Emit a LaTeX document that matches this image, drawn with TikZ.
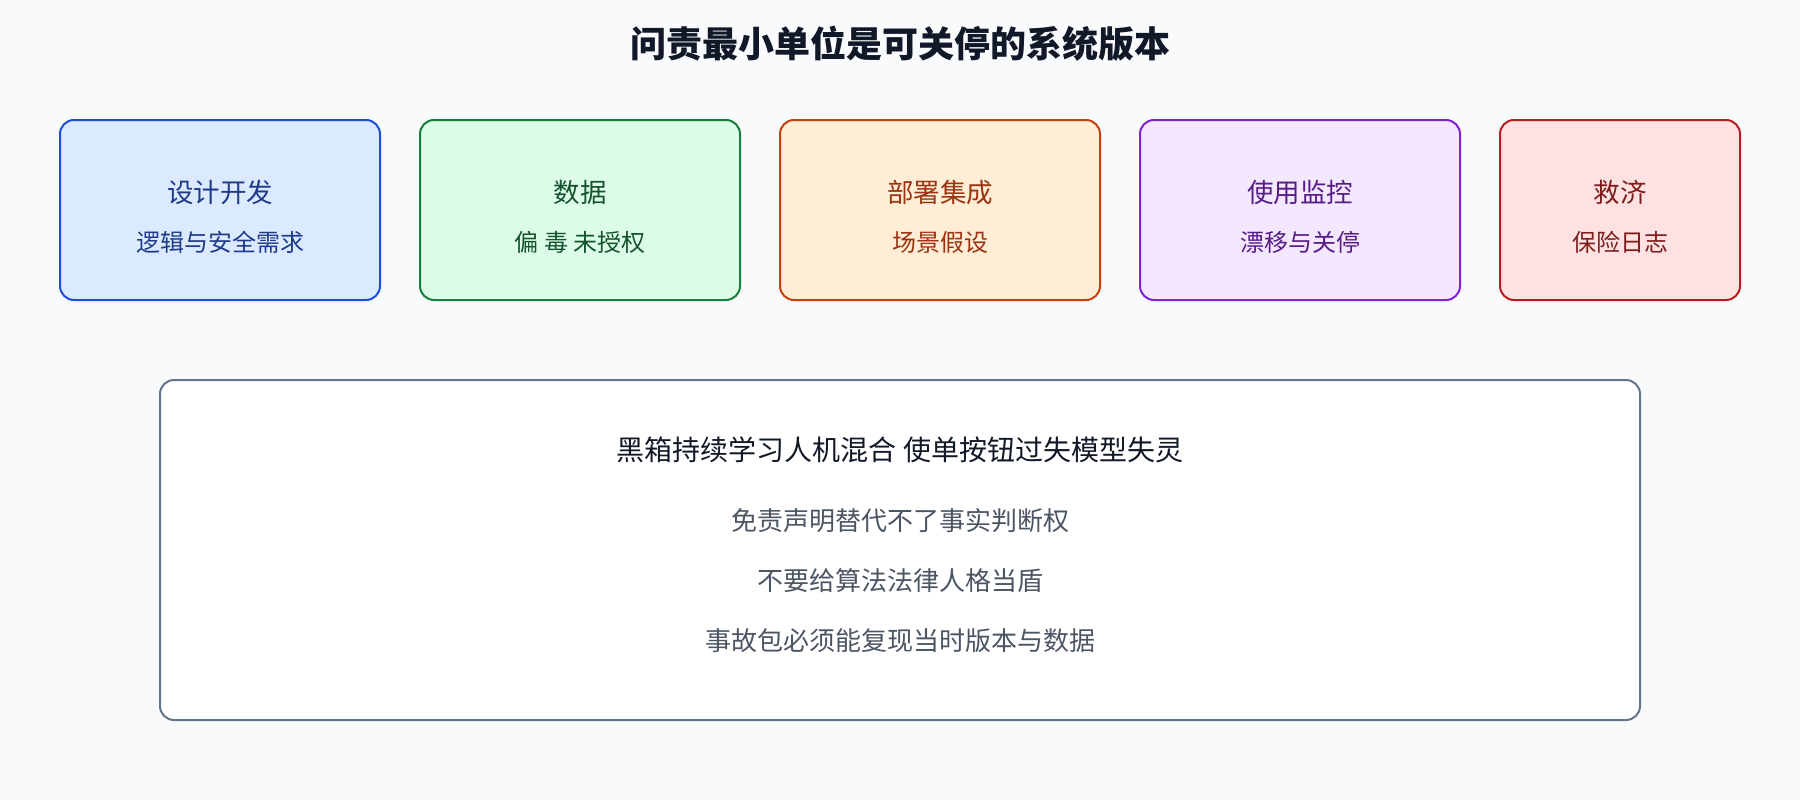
\documentclass[tikz,border=0pt]{standalone}
\usepackage{fontspec}
\setmainfont{Noto Sans CJK SC}
\newfontfamily\cjk{Noto Sans CJK SC}
\usetikzlibrary{positioning}
\definecolor{bgc}{HTML}{F8FAFC}
\definecolor{titlec}{HTML}{111827}
\definecolor{bfill}{HTML}{DBEAFE}\definecolor{bline}{HTML}{1D4ED8}\definecolor{btext}{HTML}{1E3A8A}
\definecolor{gfill}{HTML}{DCFCE7}\definecolor{gline}{HTML}{15803D}\definecolor{gtext}{HTML}{14532D}
\definecolor{ofill}{HTML}{FFEDD5}\definecolor{oline}{HTML}{C2410C}\definecolor{otext}{HTML}{9A3412}
\definecolor{pfill}{HTML}{F3E8FF}\definecolor{pline}{HTML}{7E22CE}\definecolor{ptext}{HTML}{581C87}
\definecolor{rfill}{HTML}{FEE2E2}\definecolor{rline}{HTML}{B91C1C}\definecolor{rtext}{HTML}{7F1D1D}
\definecolor{mline}{HTML}{64748B}
\definecolor{mtext}{HTML}{111827}
\definecolor{stext}{HTML}{4B5563}
\tikzset{
  card/.style={draw, line width=2pt, rounded corners=14pt, inner sep=0pt, minimum height=180pt},
  cardhead/.style={font=\cjk\fontsize{26.5}{31}\selectfont, inner sep=0pt, anchor=center},
  cardsub/.style={font=\cjk\fontsize{24}{29}\selectfont, inner sep=0pt, anchor=center},
  mainbox/.style={draw=mline, fill=white, line width=2pt, rounded corners=14pt, inner sep=0pt},
  mainhead/.style={font=\cjk\fontsize{28}{33}\selectfont, text=mtext, inner sep=0pt},
  mainline/.style={font=\cjk\fontsize{26}{31}\selectfont, text=stext, inner sep=0pt},
}
\begin{document}
\begin{tikzpicture}[x=1pt,y=-1pt]
\fill[bgc] (0,0) rectangle (1800,800);
\useasboundingbox (0,0) rectangle (1800,800);
\node[font=\cjk\bfseries\fontsize{36}{41}\selectfont, text=titlec, inner sep=0pt] (title) at (900,44) {问责最小单位是可关停的系统版本};

\node[card, fill=bfill, draw=bline, minimum width=320pt] (c1) at (220,210) {};
\node[cardhead, text=btext] (c1h) at (220,192) {设计开发};
\node[cardsub, text=btext] (c1s) at (220,242) {逻辑与安全需求};

\node[card, fill=gfill, draw=gline, minimum width=320pt] (c2) at (580,210) {};
\node[cardhead, text=gtext] (c2h) at (580,192) {数据};
\node[cardsub, text=gtext] (c2s) at (580,242) {偏 毒 未授权};

\node[card, fill=ofill, draw=oline, minimum width=320pt] (c3) at (940,210) {};
\node[cardhead, text=otext] (c3h) at (940,192) {部署集成};
\node[cardsub, text=otext] (c3s) at (940,242) {场景假设};

\node[card, fill=pfill, draw=pline, minimum width=320pt] (c4) at (1300,210) {};
\node[cardhead, text=ptext] (c4h) at (1300,192) {使用监控};
\node[cardsub, text=ptext] (c4s) at (1300,242) {漂移与关停};

\node[card, fill=rfill, draw=rline, minimum width=240pt] (c5) at (1620,210) {};
\node[cardhead, text=rtext] (c5h) at (1620,192) {救济};
\node[cardsub, text=rtext] (c5s) at (1620,242) {保险日志};

\node[mainbox, minimum width=1480pt, minimum height=340pt] (m) at (900,550) {};
\node[mainhead] (m1) at (900,450) {黑箱持续学习人机混合 使单按钮过失模型失灵};
\node[mainline] (m2) at (900,521) {免责声明替代不了事实判断权};
\node[mainline] (m3) at (900,581) {不要给算法法律人格当盾};
\node[mainline] (m4) at (900,641) {事故包必须能复现当时版本与数据};
\end{tikzpicture}
\end{document}
